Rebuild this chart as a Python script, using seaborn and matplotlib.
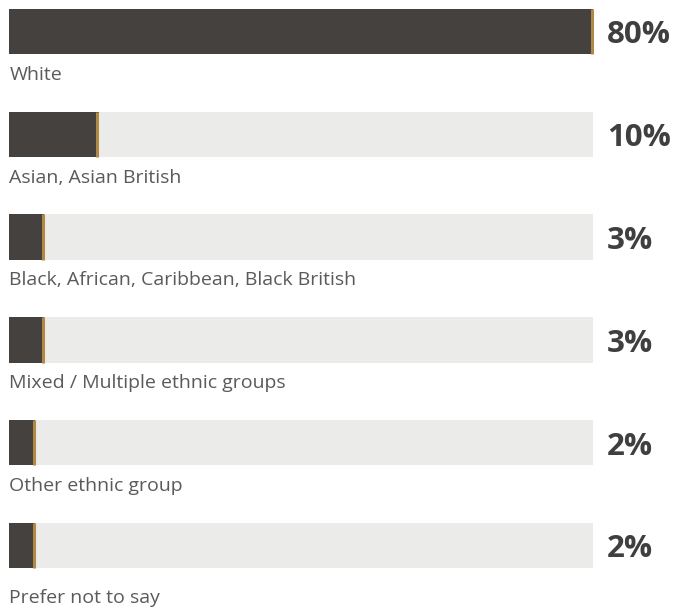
import matplotlib
matplotlib.use('Agg')
import matplotlib.pyplot as plt
import seaborn as sns
import pandas as pd

# =====================================================================
# data
# =====================================================================
categories = ['White', 'Asian, Asian British', 'Black, African, Caribbean, Black British',
              'Mixed / Multiple ethnic groups', 'Other ethnic group', 'Prefer not to say']
pct_labels = [80, 10, 3, 3, 2, 2]
# drawn bar length on the track scale (track = 80)
bar_len = [80, 12.3, 4.8, 4.8, 3.6, 3.6]
track_max = [80, 80, 80, 80, 80, 80]

df = pd.DataFrame({'cat': categories, 'pct': pct_labels, 'bar': bar_len, 'track': track_max})

DARK = '#46413d'
TRACK = '#ebebea'
GOLD = '#b08945'

sns.set_style('white')
plt.rcParams['font.family'] = ['Open Sans', 'DejaVu Sans']

fig = plt.figure(figsize=(6.75, 6.07), dpi=100)
ax = fig.add_axes([0, 0, 1, 1])

sns.barplot(data=df, x='track', y='cat', color=TRACK, width=0.44, ax=ax, orient='h')
sns.barplot(data=df, x='bar', y='cat', color=DARK, width=0.44, ax=ax, orient='h')
for p in ax.patches:
    p.set_edgecolor('none')

px = 584 / 80  # pixels per unit
for i, row in df.iterrows():
    # gold tick at the end of the dark bar
    ax.vlines(row['bar'] - 1.5 / px, i - 0.22, i + 0.22, color=GOLD, lw=2.2)
    ax.text(81.9, i + 0.115, f"{row['pct']}%", ha='left', va='baseline', fontsize=22.5,
            fontweight='bold', color='#3f3f3f')
    dy = 0.47 if i < 5 else 0.555
    ax.text(0.05, i + dy, row['cat'], ha='left', va='baseline', fontsize=14,
            color='#5a5a5a')

ax.set_xlim(-9 / px, (675 - 9) / px)
ax.set_ylim((607 - 31.5) / 102.8, -31.5 / 102.8)
ax.axis('off')

fig.savefig('out.png', dpi=100)
